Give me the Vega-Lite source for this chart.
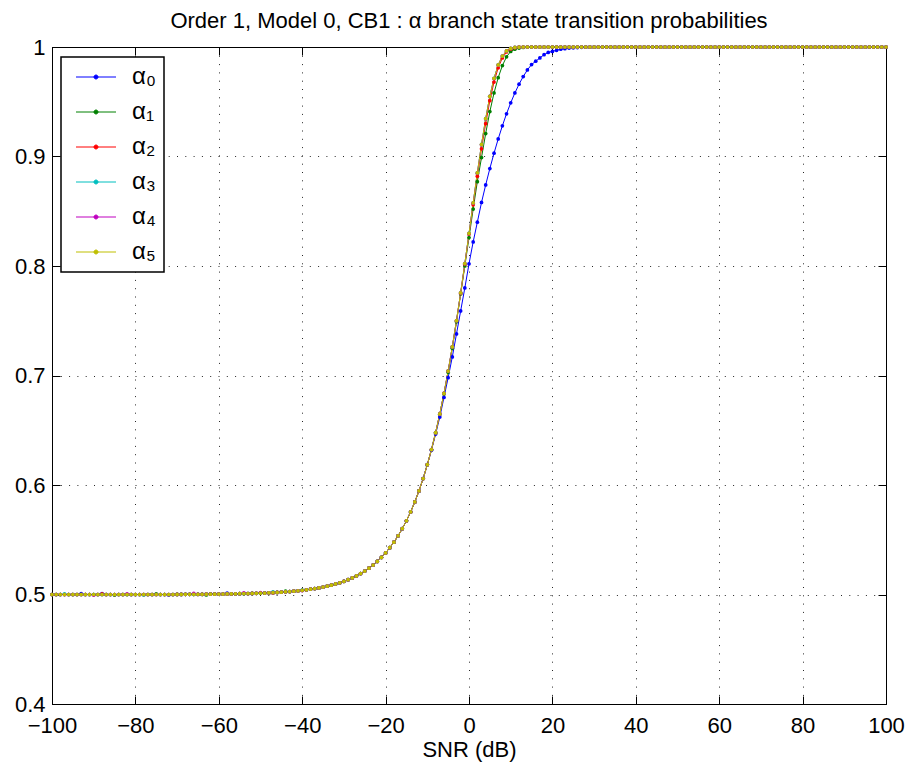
{
"$schema": "https://vega.github.io/schema/vega-lite/v6.json",
"width": 834, "height": 657,
"autosize": {"type": "none"},
"padding": {"left": 52, "top": 47, "right": 25, "bottom": 64},
"title": {"text": "Order 1, Model 0, CB1 : α branch state transition probabilities", "fontSize": 22, "font": "Liberation Sans", "fontWeight": "normal", "color": "#000", "anchor": "middle", "offset": 3},
"config": {"view": {"stroke": "#000", "strokeWidth": 1}, "font": "Liberation Sans"},
"data": {"values": [
{"x":-100,"a":0.5,"b":0.5,"c":0.5,"d":0.5,"e":0.5,"f":0.5},
{"x":-99,"a":0.5,"b":0.5,"c":0.5,"d":0.5,"e":0.5,"f":0.5},
{"x":-98,"a":0.5,"b":0.5,"c":0.5,"d":0.5,"e":0.5,"f":0.5},
{"x":-97,"a":0.5,"b":0.5,"c":0.5,"d":0.5006,"e":0.5,"f":0.5},
{"x":-96,"a":0.5,"b":0.5,"c":0.5,"d":0.5,"e":0.5,"f":0.5},
{"x":-95,"a":0.5,"b":0.5,"c":0.5,"d":0.5,"e":0.5,"f":0.5},
{"x":-94,"a":0.5,"b":0.5,"c":0.5,"d":0.5,"e":0.5,"f":0.5},
{"x":-93,"a":0.5007,"b":0.5,"c":0.5,"d":0.5,"e":0.5,"f":0.5},
{"x":-92,"a":0.5,"b":0.5,"c":0.5,"d":0.5,"e":0.5,"f":0.5},
{"x":-91,"a":0.5,"b":0.5,"c":0.5,"d":0.5,"e":0.5,"f":0.5},
{"x":-90,"a":0.5,"b":0.5,"c":0.5,"d":0.5,"e":0.4995,"f":0.5},
{"x":-89,"a":0.5,"b":0.5,"c":0.5,"d":0.5,"e":0.5,"f":0.5},
{"x":-88,"a":0.5008,"b":0.5,"c":0.5005,"d":0.5,"e":0.5,"f":0.5},
{"x":-87,"a":0.5,"b":0.5,"c":0.5,"d":0.5,"e":0.5,"f":0.5},
{"x":-86,"a":0.5,"b":0.5,"c":0.5,"d":0.5,"e":0.5,"f":0.5},
{"x":-85,"a":0.5,"b":0.4995,"c":0.5,"d":0.5,"e":0.5,"f":0.5},
{"x":-84,"a":0.5,"b":0.5,"c":0.5,"d":0.5,"e":0.5,"f":0.5},
{"x":-83,"a":0.5,"b":0.5,"c":0.5,"d":0.5,"e":0.5,"f":0.5},
{"x":-82,"a":0.5,"b":0.5,"c":0.5,"d":0.5,"e":0.5006,"f":0.5},
{"x":-81,"a":0.5,"b":0.5,"c":0.5,"d":0.5,"e":0.5,"f":0.5},
{"x":-80,"a":0.5,"b":0.5,"c":0.5,"d":0.5,"e":0.5,"f":0.5},
{"x":-79,"a":0.5,"b":0.5,"c":0.5,"d":0.5,"e":0.5,"f":0.5},
{"x":-78,"a":0.5,"b":0.5,"c":0.5,"d":0.4996,"e":0.5,"f":0.5},
{"x":-77,"a":0.5,"b":0.5,"c":0.5,"d":0.5,"e":0.5,"f":0.5},
{"x":-76,"a":0.5,"b":0.5,"c":0.5,"d":0.5,"e":0.5,"f":0.5},
{"x":-75,"a":0.5,"b":0.5005,"c":0.5,"d":0.5,"e":0.5,"f":0.5},
{"x":-74,"a":0.5,"b":0.5,"c":0.5,"d":0.5,"e":0.5,"f":0.5},
{"x":-73,"a":0.5,"b":0.5,"c":0.5,"d":0.5,"e":0.5,"f":0.5},
{"x":-72,"a":0.4996,"b":0.5,"c":0.5,"d":0.5,"e":0.5,"f":0.5},
{"x":-71,"a":0.5,"b":0.5,"c":0.5,"d":0.5,"e":0.5,"f":0.5},
{"x":-70,"a":0.5001,"b":0.5001,"c":0.5001,"d":0.5001,"e":0.5001,"f":0.5001},
{"x":-69,"a":0.5001,"b":0.5001,"c":0.5001,"d":0.5001,"e":0.5001,"f":0.5001},
{"x":-68,"a":0.5002,"b":0.5002,"c":0.5002,"d":0.5002,"e":0.5002,"f":0.5002},
{"x":-67,"a":0.5002,"b":0.5002,"c":0.5002,"d":0.5002,"e":0.5002,"f":0.5002},
{"x":-66,"a":0.5002,"b":0.5002,"c":0.5002,"d":0.5002,"e":0.501,"f":0.5002},
{"x":-65,"a":0.5002,"b":0.5002,"c":0.5002,"d":0.5002,"e":0.5002,"f":0.5002},
{"x":-64,"a":0.5002,"b":0.5002,"c":0.5002,"d":0.5002,"e":0.5002,"f":0.5002},
{"x":-63,"a":0.5003,"b":0.4996,"c":0.5003,"d":0.5003,"e":0.5003,"f":0.5003},
{"x":-62,"a":0.5003,"b":0.5003,"c":0.5003,"d":0.5003,"e":0.5003,"f":0.5003},
{"x":-61,"a":0.5003,"b":0.5003,"c":0.5003,"d":0.5003,"e":0.5003,"f":0.5003},
{"x":-60,"a":0.5004,"b":0.5004,"c":0.5004,"d":0.5004,"e":0.5004,"f":0.5004},
{"x":-59,"a":0.5004,"b":0.5004,"c":0.5004,"d":0.5004,"e":0.5004,"f":0.5004},
{"x":-58,"a":0.5012,"b":0.5005,"c":0.5005,"d":0.5005,"e":0.5005,"f":0.5005},
{"x":-57,"a":0.5005,"b":0.5005,"c":0.5005,"d":0.5005,"e":0.5005,"f":0.5005},
{"x":-56,"a":0.5006,"b":0.5006,"c":0.5006,"d":0.5006,"e":0.5006,"f":0.5006},
{"x":-55,"a":0.5007,"b":0.5007,"c":0.5007,"d":0.5007,"e":0.5007,"f":0.5007},
{"x":-54,"a":0.5008,"b":0.5008,"c":0.5008,"d":0.5008,"e":0.5016,"f":0.5008},
{"x":-53,"a":0.5009,"b":0.5009,"c":0.5009,"d":0.5009,"e":0.5009,"f":0.5009},
{"x":-52,"a":0.501,"b":0.501,"c":0.501,"d":0.501,"e":0.501,"f":0.501},
{"x":-51,"a":0.5011,"b":0.5011,"c":0.5011,"d":0.5011,"e":0.5011,"f":0.5011},
{"x":-50,"a":0.5012,"b":0.5012,"c":0.5012,"d":0.5012,"e":0.5018,"f":0.5012},
{"x":-49,"a":0.5013,"b":0.5013,"c":0.5013,"d":0.5013,"e":0.5013,"f":0.5013},
{"x":-48,"a":0.5015,"b":0.5015,"c":0.5015,"d":0.5015,"e":0.5015,"f":0.5015},
{"x":-47,"a":0.5017,"b":0.5017,"c":0.5017,"d":0.5025,"e":0.5017,"f":0.5017},
{"x":-46,"a":0.5019,"b":0.5019,"c":0.5019,"d":0.5019,"e":0.5019,"f":0.5019},
{"x":-45,"a":0.5021,"b":0.5021,"c":0.5021,"d":0.5021,"e":0.5021,"f":0.5021},
{"x":-44,"a":0.5024,"b":0.503,"c":0.5024,"d":0.5024,"e":0.5024,"f":0.5024},
{"x":-43,"a":0.5027,"b":0.5027,"c":0.5027,"d":0.5027,"e":0.5027,"f":0.5027},
{"x":-42,"a":0.503,"b":0.503,"c":0.503,"d":0.503,"e":0.503,"f":0.503},
{"x":-41,"a":0.5034,"b":0.5034,"c":0.5034,"d":0.5034,"e":0.5034,"f":0.5034},
{"x":-40,"a":0.5038,"b":0.5038,"c":0.5038,"d":0.504,"e":0.5036,"f":0.5038},
{"x":-39,"a":0.5043,"b":0.5043,"c":0.5043,"d":0.5043,"e":0.5043,"f":0.5043},
{"x":-38,"a":0.5048,"b":0.5048,"c":0.5048,"d":0.5048,"e":0.5048,"f":0.5048},
{"x":-37,"a":0.5054,"b":0.5054,"c":0.5054,"d":0.5054,"e":0.5054,"f":0.5054},
{"x":-36,"a":0.506,"b":0.506,"c":0.506,"d":0.506,"e":0.506,"f":0.506},
{"x":-35,"a":0.5068,"b":0.5068,"c":0.5068,"d":0.5068,"e":0.5068,"f":0.5068},
{"x":-34,"a":0.5076,"b":0.5076,"c":0.5076,"d":0.5076,"e":0.5076,"f":0.5076},
{"x":-33,"a":0.5085,"b":0.5085,"c":0.5085,"d":0.5085,"e":0.5085,"f":0.5085},
{"x":-32,"a":0.5096,"b":0.5096,"c":0.5096,"d":0.5096,"e":0.5096,"f":0.5096},
{"x":-31,"a":0.5107,"b":0.5107,"c":0.5107,"d":0.5107,"e":0.5107,"f":0.5107},
{"x":-30,"a":0.512,"b":0.512,"c":0.512,"d":0.512,"e":0.512,"f":0.512},
{"x":-29,"a":0.5135,"b":0.5135,"c":0.5135,"d":0.5135,"e":0.5135,"f":0.5135},
{"x":-28,"a":0.5151,"b":0.5151,"c":0.5151,"d":0.5151,"e":0.5151,"f":0.5151},
{"x":-27,"a":0.517,"b":0.517,"c":0.517,"d":0.517,"e":0.517,"f":0.517},
{"x":-26,"a":0.5191,"b":0.5191,"c":0.5191,"d":0.5191,"e":0.5191,"f":0.5191},
{"x":-25,"a":0.5214,"b":0.5214,"c":0.5214,"d":0.5214,"e":0.5214,"f":0.5214},
{"x":-24,"a":0.524,"b":0.524,"c":0.524,"d":0.524,"e":0.524,"f":0.524},
{"x":-23,"a":0.5269,"b":0.5269,"c":0.5269,"d":0.5269,"e":0.5269,"f":0.5269},
{"x":-22,"a":0.5302,"b":0.5302,"c":0.5302,"d":0.5302,"e":0.5302,"f":0.5302},
{"x":-21,"a":0.5339,"b":0.5339,"c":0.5339,"d":0.5339,"e":0.5339,"f":0.5339},
{"x":-20,"a":0.538,"b":0.538,"c":0.538,"d":0.538,"e":0.538,"f":0.538},
{"x":-19,"a":0.5427,"b":0.5427,"c":0.5427,"d":0.5427,"e":0.5427,"f":0.5427},
{"x":-18,"a":0.5478,"b":0.5478,"c":0.5478,"d":0.5478,"e":0.5478,"f":0.5478},
{"x":-17,"a":0.5536,"b":0.5536,"c":0.5536,"d":0.5536,"e":0.5536,"f":0.5536},
{"x":-16,"a":0.5601,"b":0.5601,"c":0.5601,"d":0.5601,"e":0.5601,"f":0.5601},
{"x":-15,"a":0.5673,"b":0.5673,"c":0.5673,"d":0.5673,"e":0.5673,"f":0.5673},
{"x":-14,"a":0.5754,"b":0.5754,"c":0.5754,"d":0.5754,"e":0.5754,"f":0.5754},
{"x":-13,"a":0.5845,"b":0.5845,"c":0.5845,"d":0.5845,"e":0.5845,"f":0.5845},
{"x":-12,"a":0.5946,"b":0.5946,"c":0.5946,"d":0.5946,"e":0.5946,"f":0.5946},
{"x":-11,"a":0.6059,"b":0.6059,"c":0.6059,"d":0.6059,"e":0.6059,"f":0.6059},
{"x":-10,"a":0.6185,"b":0.6185,"c":0.6185,"d":0.6185,"e":0.6185,"f":0.6185},
{"x":-9,"a":0.6318,"b":0.6324,"c":0.6324,"d":0.6324,"e":0.6324,"f":0.6324},
{"x":-8,"a":0.6465,"b":0.6478,"c":0.6478,"d":0.6478,"e":0.6478,"f":0.6478},
{"x":-7,"a":0.662,"b":0.6645,"c":0.6649,"d":0.6649,"e":0.6649,"f":0.6649},
{"x":-6,"a":0.68,"b":0.683,"c":0.6836,"d":0.6836,"e":0.6836,"f":0.6836},
{"x":-5,"a":0.698,"b":0.703,"c":0.704,"d":0.704,"e":0.704,"f":0.704},
{"x":-4,"a":0.717,"b":0.725,"c":0.7262,"d":0.7262,"e":0.7262,"f":0.7262},
{"x":-3,"a":0.738,"b":0.749,"c":0.7501,"d":0.7501,"e":0.7501,"f":0.7501},
{"x":-2,"a":0.759,"b":0.7745,"c":0.775,"d":0.7755,"e":0.7755,"f":0.7755},
{"x":-1,"a":0.78,"b":0.8,"c":0.8015,"d":0.8022,"e":0.8022,"f":0.8022},
{"x":0,"a":0.802,"b":0.826,"c":0.829,"d":0.8297,"e":0.8295,"f":0.8297},
{"x":1,"a":0.822,"b":0.852,"c":0.856,"d":0.8576,"e":0.8574,"f":0.8576},
{"x":2,"a":0.84,"b":0.877,"c":0.882,"d":0.885,"e":0.8848,"f":0.885},
{"x":3,"a":0.858,"b":0.899,"c":0.907,"d":0.911,"e":0.9108,"f":0.911},
{"x":4,"a":0.874,"b":0.921,"c":0.93,"d":0.9345,"e":0.9343,"f":0.9345},
{"x":5,"a":0.889,"b":0.941,"c":0.951,"d":0.955,"e":0.955,"f":0.955},
{"x":6,"a":0.903,"b":0.958,"c":0.968,"d":0.9714,"e":0.9712,"f":0.9714},
{"x":7,"a":0.916,"b":0.972,"c":0.981,"d":0.9836,"e":0.9835,"f":0.9836},
{"x":8,"a":0.928,"b":0.983,"c":0.99,"d":0.9917,"e":0.9917,"f":0.9917},
{"x":9,"a":0.939,"b":0.991,"c":0.9955,"d":0.9964,"e":0.9964,"f":0.9964},
{"x":10,"a":0.949,"b":0.996,"c":0.998,"d":0.9987,"e":0.9987,"f":0.9987},
{"x":11,"a":0.958,"b":0.998,"c":0.9993,"d":0.9996,"e":0.9996,"f":0.9996},
{"x":12,"a":0.966,"b":0.999,"c":0.9998,"d":0.9999,"e":0.9999,"f":0.9999},
{"x":13,"a":0.973,"b":0.9996,"c":1,"d":1,"e":1,"f":1},
{"x":14,"a":0.979,"b":1,"c":1,"d":1,"e":1,"f":1},
{"x":15,"a":0.984,"b":1,"c":1,"d":1,"e":1,"f":1},
{"x":16,"a":0.987,"b":1,"c":1,"d":1,"e":1,"f":1},
{"x":17,"a":0.99,"b":1,"c":1,"d":1,"e":1,"f":1},
{"x":18,"a":0.993,"b":1,"c":1,"d":1,"e":1,"f":1},
{"x":19,"a":0.995,"b":1,"c":1,"d":1,"e":1,"f":1},
{"x":20,"a":0.996,"b":1,"c":1,"d":1,"e":1,"f":1},
{"x":21,"a":0.997,"b":1,"c":1,"d":1,"e":1,"f":1},
{"x":22,"a":0.998,"b":1,"c":1,"d":1,"e":1,"f":1},
{"x":23,"a":0.9985,"b":1,"c":1,"d":1,"e":1,"f":1},
{"x":24,"a":0.999,"b":1,"c":1,"d":1,"e":1,"f":1},
{"x":25,"a":0.9993,"b":1,"c":1,"d":1,"e":1,"f":1},
{"x":26,"a":0.9995,"b":1,"c":1,"d":1,"e":1,"f":1},
{"x":27,"a":0.9997,"b":1,"c":1,"d":1,"e":1,"f":1},
{"x":28,"a":0.9998,"b":1,"c":1,"d":1,"e":1,"f":1},
{"x":29,"a":0.9999,"b":1,"c":1,"d":1,"e":1,"f":1},
{"x":30,"a":1,"b":1,"c":1,"d":1,"e":1,"f":1},
{"x":31,"a":1,"b":1,"c":1,"d":1,"e":1,"f":1},
{"x":32,"a":1,"b":1,"c":1,"d":1,"e":1,"f":1},
{"x":33,"a":1,"b":1,"c":1,"d":1,"e":1,"f":1},
{"x":34,"a":1,"b":1,"c":1,"d":1,"e":1,"f":1},
{"x":35,"a":1,"b":1,"c":1,"d":1,"e":1,"f":1},
{"x":36,"a":1,"b":1,"c":1,"d":1,"e":1,"f":1},
{"x":37,"a":1,"b":1,"c":1,"d":1,"e":1,"f":1},
{"x":38,"a":1,"b":1,"c":1,"d":1,"e":1,"f":1},
{"x":39,"a":1,"b":1,"c":1,"d":1,"e":1,"f":1},
{"x":40,"a":1,"b":1,"c":1,"d":1,"e":1,"f":1},
{"x":41,"a":1,"b":1,"c":1,"d":1,"e":1,"f":1},
{"x":42,"a":1,"b":1,"c":1,"d":1,"e":1,"f":1},
{"x":43,"a":1,"b":1,"c":1,"d":1,"e":1,"f":1},
{"x":44,"a":1,"b":1,"c":1,"d":1,"e":1,"f":1},
{"x":45,"a":1,"b":1,"c":1,"d":1,"e":1,"f":1},
{"x":46,"a":1,"b":1,"c":1,"d":1,"e":1,"f":1},
{"x":47,"a":1,"b":1,"c":1,"d":1,"e":1,"f":1},
{"x":48,"a":1,"b":1,"c":1,"d":1,"e":1,"f":1},
{"x":49,"a":1,"b":1,"c":1,"d":1,"e":1,"f":1},
{"x":50,"a":1,"b":1,"c":1,"d":1,"e":1,"f":1},
{"x":51,"a":1,"b":1,"c":1,"d":1,"e":1,"f":1},
{"x":52,"a":1,"b":1,"c":1,"d":1,"e":1,"f":1},
{"x":53,"a":1,"b":1,"c":1,"d":1,"e":1,"f":1},
{"x":54,"a":1,"b":1,"c":1,"d":1,"e":1,"f":1},
{"x":55,"a":1,"b":1,"c":1,"d":1,"e":1,"f":1},
{"x":56,"a":1,"b":1,"c":1,"d":1,"e":1,"f":1},
{"x":57,"a":1,"b":1,"c":1,"d":1,"e":1,"f":1},
{"x":58,"a":1,"b":1,"c":1,"d":1,"e":1,"f":1},
{"x":59,"a":1,"b":1,"c":1,"d":1,"e":1,"f":1},
{"x":60,"a":1,"b":1,"c":1,"d":1,"e":1,"f":1},
{"x":61,"a":1,"b":1,"c":1,"d":1,"e":1,"f":1},
{"x":62,"a":1,"b":1,"c":1,"d":1,"e":1,"f":1},
{"x":63,"a":1,"b":1,"c":1,"d":1,"e":1,"f":1},
{"x":64,"a":1,"b":1,"c":1,"d":1,"e":1,"f":1},
{"x":65,"a":1,"b":1,"c":1,"d":1,"e":1,"f":1},
{"x":66,"a":1,"b":1,"c":1,"d":1,"e":1,"f":1},
{"x":67,"a":1,"b":1,"c":1,"d":1,"e":1,"f":1},
{"x":68,"a":1,"b":1,"c":1,"d":1,"e":1,"f":1},
{"x":69,"a":1,"b":1,"c":1,"d":1,"e":1,"f":1},
{"x":70,"a":1,"b":1,"c":1,"d":1,"e":1,"f":1},
{"x":71,"a":1,"b":1,"c":1,"d":1,"e":1,"f":1},
{"x":72,"a":1,"b":1,"c":1,"d":1,"e":1,"f":1},
{"x":73,"a":1,"b":1,"c":1,"d":1,"e":1,"f":1},
{"x":74,"a":1,"b":1,"c":1,"d":1,"e":1,"f":1},
{"x":75,"a":1,"b":1,"c":1,"d":1,"e":1,"f":1},
{"x":76,"a":1,"b":1,"c":1,"d":1,"e":1,"f":1},
{"x":77,"a":1,"b":1,"c":1,"d":1,"e":1,"f":1},
{"x":78,"a":1,"b":1,"c":1,"d":1,"e":1,"f":1},
{"x":79,"a":1,"b":1,"c":1,"d":1,"e":1,"f":1},
{"x":80,"a":1,"b":1,"c":1,"d":1,"e":1,"f":1},
{"x":81,"a":1,"b":1,"c":1,"d":1,"e":1,"f":1},
{"x":82,"a":1,"b":1,"c":1,"d":1,"e":1,"f":1},
{"x":83,"a":1,"b":1,"c":1,"d":1,"e":1,"f":1},
{"x":84,"a":1,"b":1,"c":1,"d":1,"e":1,"f":1},
{"x":85,"a":1,"b":1,"c":1,"d":1,"e":1,"f":1},
{"x":86,"a":1,"b":1,"c":1,"d":1,"e":1,"f":1},
{"x":87,"a":1,"b":1,"c":1,"d":1,"e":1,"f":1},
{"x":88,"a":1,"b":1,"c":1,"d":1,"e":1,"f":1},
{"x":89,"a":1,"b":1,"c":1,"d":1,"e":1,"f":1},
{"x":90,"a":1,"b":1,"c":1,"d":1,"e":1,"f":1},
{"x":91,"a":1,"b":1,"c":1,"d":1,"e":1,"f":1},
{"x":92,"a":1,"b":1,"c":1,"d":1,"e":1,"f":1},
{"x":93,"a":1,"b":1,"c":1,"d":1,"e":1,"f":1},
{"x":94,"a":1,"b":1,"c":1,"d":1,"e":1,"f":1},
{"x":95,"a":1,"b":1,"c":1,"d":1,"e":1,"f":1},
{"x":96,"a":1,"b":1,"c":1,"d":1,"e":1,"f":1},
{"x":97,"a":1,"b":1,"c":1,"d":1,"e":1,"f":1},
{"x":98,"a":1,"b":1,"c":1,"d":1,"e":1,"f":1},
{"x":99,"a":1,"b":1,"c":1,"d":1,"e":1,"f":1},
{"x":100,"a":1,"b":1,"c":1,"d":1,"e":1,"f":1}
]},
"transform": [{"fold": ["a","b","c","d","e","f"], "as": ["k","y"]}],
"layer": [
{
"mark": {"type": "line", "strokeWidth": 1, "point": {"filled": true, "size": 14}},
"encoding": {
"x": {"field": "x", "type": "quantitative", "scale": {"domain": [-100,100], "nice": false, "zero": false},
 "axis": {"orient": "bottom", "values": [-100,-80,-60,-40,-20,0,20,40,60,80,100], "format": "d", "labelFontSize": 22, "labelFont": "Liberation Sans", "labelColor": "#000", "labelFlush": false, "labelOverlap": false, "tickSize": -8, "tickColor": "#000", "labelPadding": 19, "domainColor": "#000", "grid": true, "gridColor": "#000", "gridDash": [1,7.3], "gridOpacity": 0.85, "title": "SNR (dB)", "titleFontSize": 22, "titleFont": "Liberation Sans", "titleFontWeight": "normal", "titleColor": "#000", "titlePadding": 3}},
"y": {"field": "y", "type": "quantitative", "scale": {"domain": [0.4,1], "nice": false, "zero": false},
 "axis": {"orient": "left", "values": [0.4,0.5,0.6,0.7,0.8,0.9,1], "format": "~g", "labelFontSize": 22, "labelFont": "Liberation Sans", "labelColor": "#000", "labelFlush": false, "labelOverlap": false, "tickSize": -8, "tickColor": "#000", "labelPadding": 15, "domainColor": "#000", "grid": true, "gridColor": "#000", "gridDash": [1,7.3], "gridOpacity": 0.85, "title": null}},
"color": {"field": "k", "type": "nominal", "scale": {"domain": ["a","b","c","d","e","f"], "range": ["#0000ff","#008000","#ff0000","#00bfbf","#bf00bf","#bfbf00"]},
 "legend": {"orient": "none", "legendX": 9, "legendY": 10, "title": null, "fillColor": "#fff", "strokeColor": "#000", "padding": 8, "rowPadding": 11,
  "symbolType": "M-2,0H2M-0.2,0A0.2,0.2 0 1,1 0.2,0A0.2,0.2 0 1,1 -0.2,0Z", "symbolSize": 400, "symbolStrokeWidth": 1, "symbolOffset": 15, "labelOffset": 24,
  "labelFontSize": 24, "labelFont": "Liberation Sans", "labelColor": "#000",
  "labelExpr": "['α₀','α₁','α₂','α₃','α₄','α₅'][indexof('abcdef', datum.label)] + '\u00a0\u00a0'",
  "encode": {"legend": {"update": {"strokeWidth": {"value": 1.5}}}, "symbols": {"update": {"fill": {"scale": "color", "field": "value"}, "stroke": {"scale": "color", "field": "value"}, "strokeWidth": {"value": 1}, "opacity": {"value": 1}}}}}}
}
},
{
"mark": {"type": "point", "opacity": 0},
"encoding": {
"x": {"field": "x", "type": "quantitative", "axis": {"orient": "top", "values": [-100,-80,-60,-40,-20,0,20,40,60,80,100], "labels": false, "tickSize": -8, "tickColor": "#000", "domainColor": "#000", "grid": false, "title": null}},
"y": {"field": "y", "type": "quantitative", "axis": {"orient": "right", "values": [0.4,0.5,0.6,0.7,0.8,0.9,1], "labels": false, "tickSize": -8, "tickColor": "#000", "domainColor": "#000", "grid": false, "title": null}}
}
}
],
"resolve": {"axis": {"x": "independent", "y": "independent"}}
}
